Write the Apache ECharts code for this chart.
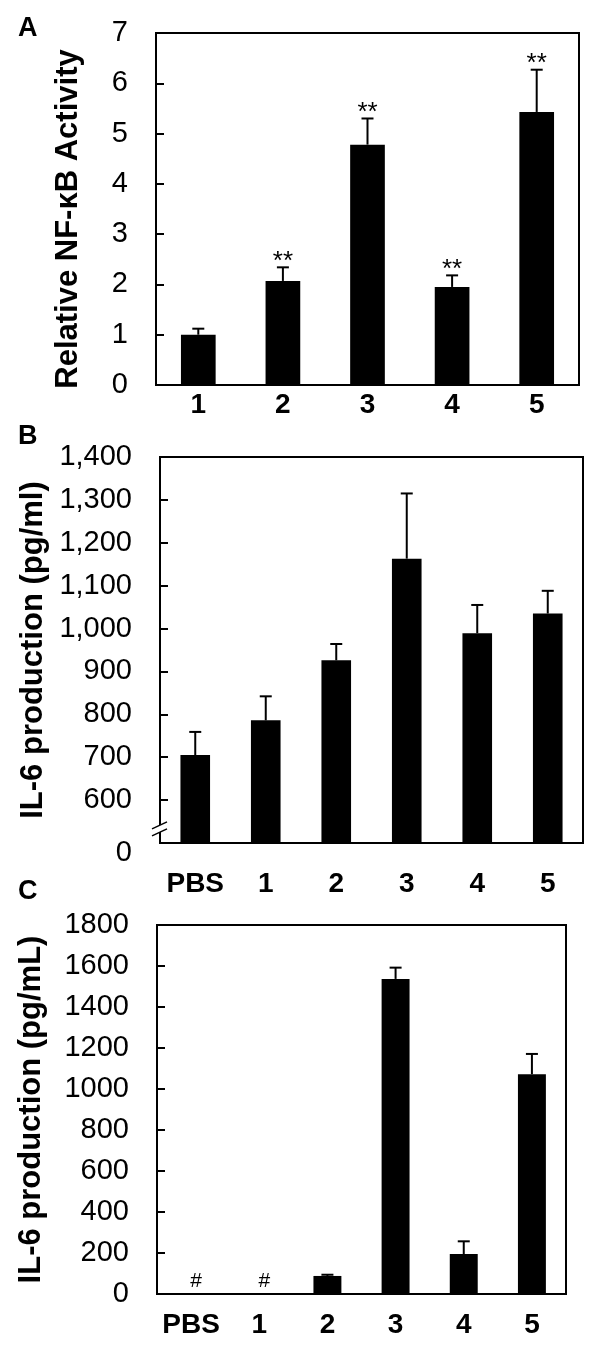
<!DOCTYPE html>
<html>
<head>
<meta charset="utf-8">
<script src="https://cdn.jsdelivr.net/npm/echarts@6/dist/echarts.min.js"></script>
<style>
html,body{margin:0;padding:0;background:#fff;}
#chart{width:600px;height:1362px;}
</style>
</head>
<body>
<div id="chart"></div>
<script>
// ---- Data ----
const catsA = ['1', '2', '3', '4', '5'];
const meanA = [1.0, 2.07, 4.78, 1.95, 5.43];
const sdA = [0.12, 0.27, 0.52, 0.23, 0.84];
const sigA = ['', '**', '**', '**', '**'];
const titleA = 'Relative NF-\u03baB Activity';

const catsB = ['PBS', '1', '2', '3', '4', '5'];
const meanB = [705, 786, 926, 1163, 989, 1035];
const sdB = [54, 56, 38, 152, 66, 53];
const titleB = 'IL-6 production (pg/ml)';
const breakLabelB = '0';   // label shown at the broken axis start

const catsC = ['PBS', '1', '2', '3', '4', '5'];
const meanC = [0, 0, 88, 1537, 195, 1072];
const sdC = [0, 0, 6, 55, 62, 99];
const markC = ['#', '#', '', '', '', ''];
const titleC = 'IL-6 production (pg/mL)';

const panelLetters = ['A', 'B', 'C'];

// ---- Layout ----
const grids = [
  {left: 156, top: 33, width: 423, height: 352},
  {left: 160, top: 457, width: 423, height: 386},
  {left: 157, top: 925, width: 409, height: 369}
];
const FONT = '"Liberation Sans", Arial, sans-serif';

function fmtComma(v) {
  return String(v).replace(/\B(?=(\d{3})+(?!\d))/g, ',');
}

function errSeries(idx, means, sds, marks, markOpts) {
  return {
    type: 'custom',
    xAxisIndex: idx, yAxisIndex: idx,
    z: 5,
    silent: true,
    data: means.map((m, i) => [i, m, m + sds[i]]),
    renderItem: function (params, api) {
      const i = api.value(0);
      const lo = api.coord([i, api.value(1)]);
      const hi = api.coord([i, api.value(2)]);
      const children = [];
      if (api.value(2) > api.value(1)) {
        children.push({type: 'line', shape: {x1: lo[0], y1: lo[1], x2: hi[0], y2: hi[1]},
          style: {stroke: '#000', lineWidth: 2}});
        children.push({type: 'line', shape: {x1: hi[0] - 6, y1: hi[1], x2: hi[0] + 6, y2: hi[1]},
          style: {stroke: '#000', lineWidth: 2}});
      }
      const mk = marks ? marks[params.dataIndex] : '';
      if (mk) {
        children.push({type: 'text', x: hi[0] + markOpts.dx, y: hi[1] + markOpts.dy,
          style: {text: mk, fill: '#000', font: markOpts.font, align: 'center', verticalAlign: 'middle'}});
      }
      return {type: 'group', children: children};
    }
  };
}

function yAxisBase(idx, name, gap) {
  return {
    type: 'value', gridIndex: idx,
    name: name, nameLocation: 'middle', nameRotate: 90, nameGap: gap,
    nameTextStyle: {fontFamily: FONT, fontWeight: 'bold', fontSize: 31, color: '#000'},
    axisLine: {show: true, lineStyle: {color: '#000', width: 2}},
    axisTick: {show: true, inside: true, length: 8, lineStyle: {color: '#000', width: 2}},
    splitLine: {show: false},
    axisLabel: {fontFamily: FONT, fontSize: 29, color: '#000', margin: 28,
      formatter: function (v) { return String(v); }}
  };
}

function xAxisBase(idx, cats, margin) {
  return {
    type: 'category', gridIndex: idx, data: cats,
    axisLine: {show: true, lineStyle: {color: '#000', width: 2}},
    axisTick: {show: false},
    axisLabel: {fontFamily: FONT, fontWeight: 'bold', fontSize: 28, color: '#000', margin: margin, interval: 0}
  };
}

const yA = yAxisBase(0, titleA, 72);
yA.min = 0; yA.max = 7; yA.interval = 1;
yA.nameTextStyle.padding = [0, 20, 0, 0];
const yB = yAxisBase(1, titleB, 110);
yB.min = 500; yB.max = 1400; yB.interval = 100;
yB.axisLabel.formatter = function (v) { return v === 500 ? '{z|' + breakLabelB + '}' : fmtComma(v); };
yB.axisLabel.rich = {z: {fontFamily: FONT, fontSize: 29, color: '#000', padding: [20, 0, 0, 0]}};
const yC = yAxisBase(2, titleC, 110);
yC.min = 0; yC.max = 1800; yC.interval = 200;

const option = {
  backgroundColor: '#fff',
  animation: false,
  grid: grids.map(g => Object.assign({show: true, borderColor: '#000', borderWidth: 2, containLabel: false}, g)),
  xAxis: [xAxisBase(0, catsA, 6), xAxisBase(1, catsB, 27), xAxisBase(2, catsC, 17)],
  yAxis: [yA, yB, yC],
  series: [
    {type: 'bar', xAxisIndex: 0, yAxisIndex: 0, data: meanA, barWidth: '41%', itemStyle: {color: '#000'}},
    {type: 'bar', xAxisIndex: 1, yAxisIndex: 1, data: meanB, barWidth: '42%', itemStyle: {color: '#000'}},
    {type: 'bar', xAxisIndex: 2, yAxisIndex: 2, data: meanC, barWidth: '41%', itemStyle: {color: '#000'}},
    errSeries(0, meanA, sdA, sigA, {dx: 0, dy: -6, font: '26px ' + FONT}),
    errSeries(1, meanB, sdB, null, null),
    errSeries(2, meanC, sdC, markC, {dx: 5, dy: -13, font: '21px ' + FONT})
  ]
};

const chart = echarts.init(document.getElementById('chart'), null, {renderer: 'canvas'});
chart.setOption(option);

// panel letters and axis-break marks
const yBreak = chart.convertToPixel({yAxisIndex: 1}, 540);
const xBreak = grids[1].left;
const letterY = [29, 437, 892];
chart.setOption({
  graphic: [
    ...panelLetters.map((t, i) => ({type: 'text', x: 18, y: letterY[i], z: 10,
      style: {text: t, font: 'bold 27px ' + FONT, fill: '#000', verticalAlign: 'middle'}})),
    {type: 'polygon', z: 10, shape: {points: [[xBreak - 8, yBreak + 3], [xBreak + 7, yBreak - 4], [xBreak + 7, yBreak + 3], [xBreak - 8, yBreak + 10]]},
      style: {fill: '#fff'}},
    {type: 'line', z: 11, shape: {x1: xBreak - 8, y1: yBreak + 3, x2: xBreak + 7, y2: yBreak - 4}, style: {stroke: '#000', lineWidth: 1.5}},
    {type: 'line', z: 11, shape: {x1: xBreak - 8, y1: yBreak + 10, x2: xBreak + 7, y2: yBreak + 3}, style: {stroke: '#000', lineWidth: 1.5}}
  ]
});
</script>
</body>
</html>
